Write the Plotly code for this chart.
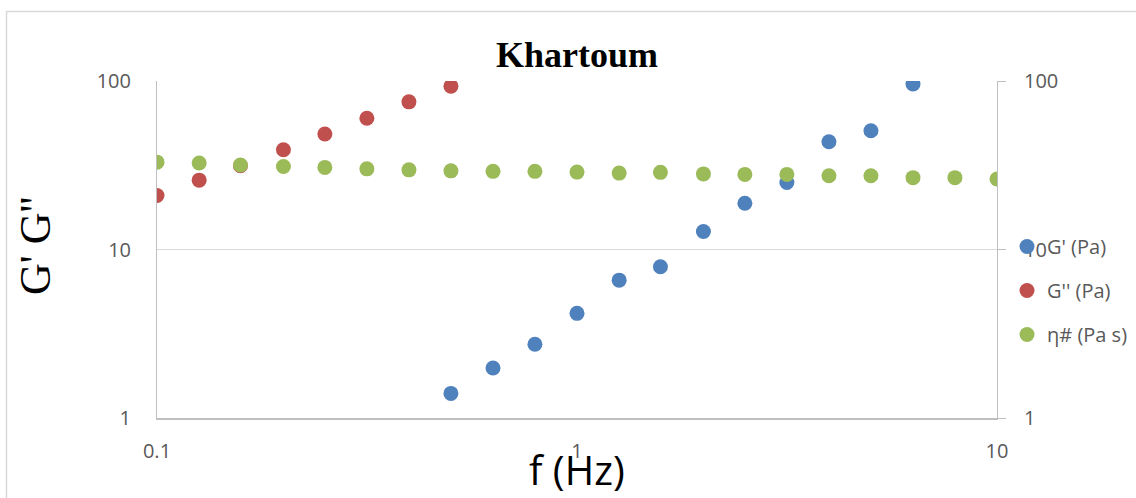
import plotly.graph_objects as go

# Frequency sweep (Hz), ten points per decade
freq = [0.1, 0.126, 0.158, 0.2, 0.251, 0.316, 0.398, 0.501, 0.631, 0.794,
        1.0, 1.26, 1.58, 2.0, 2.51, 3.16, 3.98, 5.01, 6.31, 7.94, 10.0]

# Storage modulus G' (Pa), measured from 0.501 Hz upwards
g_storage_freq = [0.501, 0.631, 0.794, 1.0, 1.26, 1.58, 2.0, 2.51, 3.16, 3.98, 5.01, 6.31]
g_storage = [1.40, 1.98, 2.74, 4.18, 6.58, 7.90, 12.8, 18.8, 25.0, 43.6, 50.7, 96.0]

# Loss modulus G'' (Pa), low-frequency part
g_loss_freq = [0.1, 0.126, 0.158, 0.2, 0.251, 0.316, 0.398, 0.501]
g_loss = [20.9, 25.8, 31.4, 39.1, 48.5, 60.1, 75.2, 93.2]

# Complex viscosity (Pa s)
eta = [33.0, 32.6, 31.7, 31.1, 30.7, 30.1, 29.7, 29.3, 29.1, 29.1,
       28.8, 28.4, 28.7, 28.1, 27.9, 27.9, 27.4, 27.4, 26.7, 26.7, 26.2]

series_names = ["G' (Pa)", "G'' (Pa)", "η# (Pa s)"]
series_colors = ["#4F81BD", "#C0504D", "#9BBB59"]

y_ticks = [1, 10, 100]
y_ticktext = ["1", "10", "100"]
x_ticks = [0.1, 1, 10]
x_ticktext = ["0.1", "1", "10"]

W, H = 1136, 498
ML, MR, MT, MB = 157, 139, 81, 80
PW, PH = W - ML - MR, H - MT - MB


def px_x(px):
    return (px - ML) / PW


def px_y(py):
    return 1 - (py - MT) / PH


LABEL_FONT = "Open Sans, Liberation Sans, sans-serif"
GREY = "#595959"

fig = go.Figure()
for i, (xs, ys) in enumerate([(g_storage_freq, g_storage),
                              (g_loss_freq, g_loss),
                              (freq, eta)]):
    fig.add_trace(go.Scatter(
        x=xs, y=ys, mode="markers", name=series_names[i],
        legendgroup=f"g{i}",
        marker=dict(size=15, color=series_colors[i], line=dict(width=0)),
    ))

# invisible trace to carry the right-hand axis
fig.add_trace(go.Scatter(x=[1], y=[10], yaxis="y2", mode="markers",
                         marker=dict(opacity=0), showlegend=False,
                         hoverinfo="skip"))

fig.update_layout(
    width=W, height=H,
    margin=dict(l=ML, r=MR, t=MT, b=MB, autoexpand=False),
    paper_bgcolor="white", plot_bgcolor="white",
    title=dict(text="<b>Khartoum</b>", x=577 / W, xanchor="center",
               y=1 - 54 / H, yanchor="middle", yref="container",
               font=dict(family="Liberation Serif, serif", size=36, color="black")),
    xaxis=dict(type="log", range=[-1, 1], tickvals=x_ticks, ticktext=x_ticktext,
               showgrid=False, zeroline=False, showline=True,
               linecolor="#BFBFBF", linewidth=1.5, ticks="",
               ticklabelstandoff=14,
               tickfont=dict(family=LABEL_FONT, size=20, color=GREY)),
    yaxis=dict(type="log", range=[0, 2], tickvals=y_ticks, ticktext=y_ticktext,
               showgrid=True, gridcolor="#D9D9D9", gridwidth=1,
               zeroline=False, showline=True, linecolor="#BFBFBF",
               linewidth=1, ticks="", ticklabelstandoff=21,
               tickfont=dict(family=LABEL_FONT, size=20, color=GREY)),
    yaxis2=dict(type="log", range=[0, 2], tickvals=y_ticks, ticktext=y_ticktext,
                overlaying="y", side="right", showgrid=False, zeroline=False,
                showline=True, linecolor="#BFBFBF", linewidth=1,
                ticks="outside", ticklen=8, tickcolor="#BFBFBF",
                ticklabelstandoff=14,
                tickfont=dict(family=LABEL_FONT, size=20, color=GREY)),
    showlegend=True,
    legend=dict(x=px_x(1007), xanchor="left", y=px_y(227), yanchor="top",
                traceorder="grouped", tracegroupgap=15,
                bgcolor="rgba(0,0,0,0)",
                font=dict(family=LABEL_FONT, size=20, color=GREY)),
    annotations=[
        dict(text="G' G''", xref="paper", yref="paper",
             x=px_x(36), y=px_y(246), xanchor="center", yanchor="middle",
             textangle=-90, showarrow=False,
             font=dict(family="Liberation Serif, serif", size=44, color="black")),
        dict(text="f (Hz)", xref="paper", yref="paper",
             x=px_x(577), y=px_y(469), xanchor="center", yanchor="middle",
             showarrow=False,
             font=dict(family=LABEL_FONT, size=40, color="black")),
    ],
    shapes=[
        dict(type="rect", xref="paper", yref="paper",
             x0=px_x(6.5), x1=px_x(1300), y0=px_y(11.5), y1=px_y(700),
             line=dict(color="#D9D9D9", width=1.5), layer="below"),
    ],
)

fig.write_html("out.html")
